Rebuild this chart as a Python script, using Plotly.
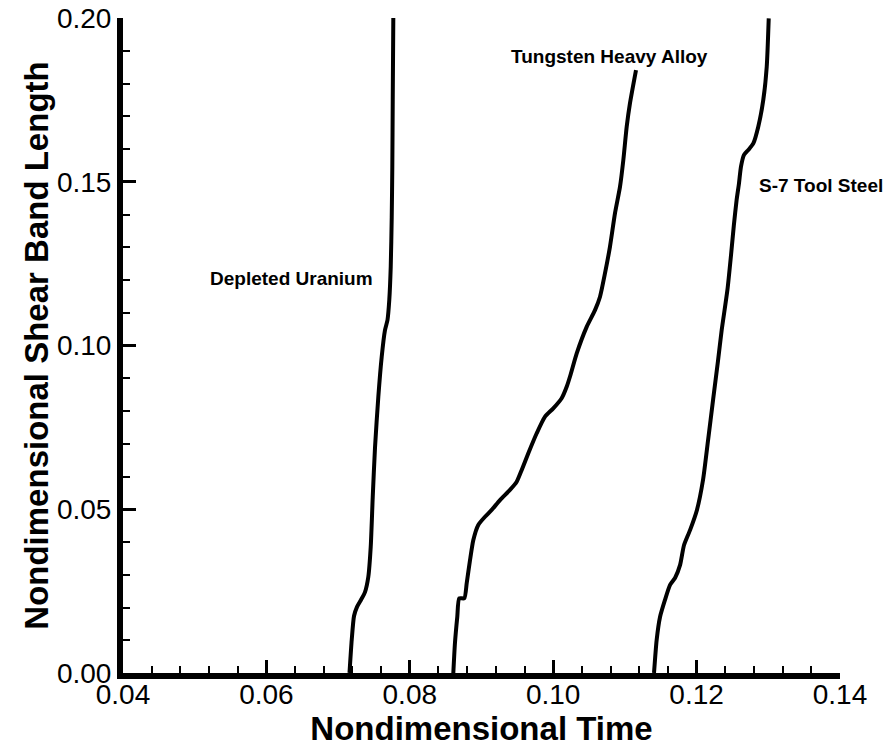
import plotly.graph_objects as go

# Depleted Uranium
du_x = [0.07159, 0.07190, 0.07222, 0.07264, 0.07319, 0.07375, 0.07421, 0.07455, 0.07483,
        0.07515, 0.07561, 0.07608, 0.07654, 0.07689, 0.07714, 0.07734, 0.07748, 0.07756,
        0.07762, 0.07770]
du_y = [0.0, 0.0101, 0.0174, 0.0202, 0.0223, 0.0247, 0.0293, 0.0385, 0.0537,
        0.0690, 0.0843, 0.0965, 0.1047, 0.1078, 0.1139, 0.1240, 0.1392, 0.1545,
        0.1750, 0.2000]

# Tungsten Heavy Alloy
tha_x = [0.08607, 0.08630, 0.08662, 0.08690, 0.08760, 0.08794, 0.08840, 0.08886, 0.08955,
         0.09049, 0.09142, 0.09258, 0.09397, 0.09491, 0.09561, 0.09653, 0.09770, 0.09886,
         0.10001, 0.10118, 0.10188, 0.10241, 0.10328, 0.10467, 0.10583, 0.10653, 0.10722,
         0.10792, 0.10862, 0.10932, 0.10978, 0.11025, 0.11071, 0.11155]
tha_y = [0.0, 0.0092, 0.0171, 0.0228, 0.0228, 0.0275, 0.0345, 0.0406, 0.0452,
         0.0477, 0.0498, 0.0528, 0.0559, 0.0584, 0.0620, 0.0671, 0.0732, 0.0783,
         0.0808, 0.0839, 0.0874, 0.0910, 0.0976, 0.1057, 0.1108, 0.1149, 0.1220,
         0.1302, 0.1404, 0.1485, 0.1566, 0.1668, 0.1740, 0.1841]

# S-7 Tool Steel
s7_x = [0.11406, 0.11443, 0.11490, 0.11559, 0.11630, 0.11699, 0.11770, 0.11824, 0.11910,
        0.12005, 0.12090, 0.12160, 0.12230, 0.12300, 0.12350, 0.12430, 0.12480, 0.12520,
        0.12558, 0.12591, 0.12619, 0.12661, 0.12721, 0.12791, 0.12860, 0.12930, 0.12978,
        0.13006]
s7_y = [0.0, 0.0101, 0.0171, 0.0223, 0.0269, 0.0290, 0.0330, 0.0390, 0.0437,
        0.0498, 0.0590, 0.0711, 0.0834, 0.0956, 0.1047, 0.1170, 0.1276, 0.1368,
        0.1444, 0.1495, 0.1546, 0.1582, 0.1597, 0.1617, 0.1668, 0.1750, 0.1851,
        0.1999]

labels = ["Depleted Uranium", "Tungsten Heavy Alloy", "S-7 Tool Steel"]
label_x = [0.0635, 0.1079, 0.1374]
label_y = [0.1206, 0.1881, 0.1490]

FONT = "Liberation Sans, Arial, Helvetica, sans-serif"

fig = go.Figure()
for xs, ys, name in [(du_x, du_y, labels[0]), (tha_x, tha_y, labels[1]), (s7_x, s7_y, labels[2])]:
    fig.add_trace(go.Scatter(x=xs, y=ys, mode="lines", name=name,
                             line=dict(color="black", width=4, shape="spline", smoothing=0.6)))

for t, lx, ly in zip(labels, label_x, label_y):
    fig.add_annotation(x=lx, y=ly, xref="x", yref="y", text="<b>%s</b>" % t,
                       showarrow=False, font=dict(family=FONT, size=19, color="black"))

axis_common = dict(
    showline=True, linewidth=6, linecolor="black", mirror=False,
    showgrid=False, zeroline=False, automargin=False,
    ticks="inside", ticklen=13, tickwidth=3, tickcolor="black",
    tickfont=dict(family=FONT, size=28, color="black"),
    tickformat=".2f", ticklabeloverflow="allow",
)

fig.update_xaxes(range=[0.04, 0.14], tick0=0.04, dtick=0.02, ticklabelstandoff=-9,
                 minor=dict(dtick=0.004, ticks="inside", ticklen=7, tickwidth=1.5,
                            tickcolor="black", showgrid=False),
                 title=dict(text="<b>Nondimensional Time</b>", standoff=4,
                            font=dict(family=FONT, size=33, color="black")),
                 **axis_common)
fig.update_yaxes(range=[0, 0.2], tick0=0, dtick=0.05,
                 minor=dict(dtick=0.01, ticks="inside", ticklen=7, tickwidth=1.5,
                            tickcolor="black", showgrid=False),
                 title=dict(text="<b>Nondimensional Shear Band Length</b>", standoff=0,
                            font=dict(family=FONT, size=33, color="black")),
                 **axis_common)

fig.update_layout(width=896, height=748, margin=dict(l=115, r=64, t=10, b=83),
                  plot_bgcolor="white", paper_bgcolor="white", showlegend=False)

fig.write_html("out.html")
